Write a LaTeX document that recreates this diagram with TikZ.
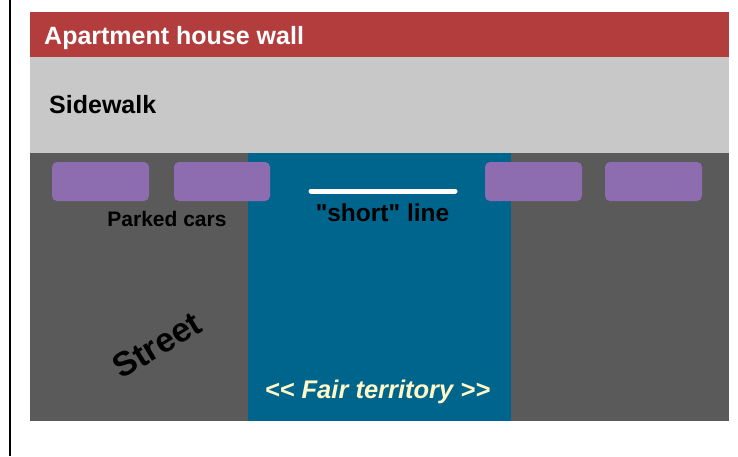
\documentclass[tikz,border=0pt]{standalone}
\usepackage{fontspec}
\newfontfamily\pf{Liberation Sans}
\definecolor{wallred}{RGB}{179,60,60}
\definecolor{sidegray}{RGB}{200,200,200}
\definecolor{streetgray}{RGB}{90,90,90}
\definecolor{fairblue}{RGB}{0,101,140}
\definecolor{carpurple}{RGB}{142,108,176}
\definecolor{cream}{RGB}{255,248,200}
\tikzset{
  car/.style={fill=carpurple, rounded corners=5pt},
  lbl/.style={inner sep=0pt},
}
\begin{document}
\begin{tikzpicture}[x=1pt,y=-1pt]
\useasboundingbox (0,0) rectangle (738,456);
\fill[white] (0,0) rectangle (738,456);
% left border line
\draw[line width=2pt] (10,0) -- (10,456);
% wall
\fill[wallred] (30,12) rectangle (729,57);
% sidewalk
\fill[sidegray] (30,57) rectangle (729,153);
% street
\fill[streetgray] (30,153) rectangle (729,421);
% fair territory
\fill[fairblue] (248,153) rectangle (511,421);
% cars
\fill[car] (52,162) rectangle (149,201);
\fill[car] (174,162) rectangle (270,201);
\fill[car] (485,162) rectangle (582,201);
\fill[car] (605,162) rectangle (702,201);
% short line
\coordinate (sl1) at (311,191);
\coordinate (sl2) at (455,191);
\draw[white, line width=5pt, line cap=round] (sl1) -- (sl2);
% labels
\node[lbl, text=white, anchor=base west, font=\pf\bfseries\fontsize{25}{25}\selectfont] (wall) at (44,44) {Apartment house wall};
\node[lbl, anchor=base west, font=\pf\bfseries\fontsize{25}{25}\selectfont] (side) at (49,113) {Sidewalk};
\node[lbl, anchor=base, font=\pf\bfseries\fontsize{21}{21}\selectfont] (parked) at (167,226) {Parked cars};
\node[lbl, anchor=base, font=\pf\bfseries\fontsize{24.5}{24.5}\selectfont] (short) at (382.5,221) {"short" line};
\node[lbl, anchor=base, text=cream, font=\pf\bfseries\itshape\fontsize{25.5}{25.5}\selectfont] (fair) at (377.5,398) {<< Fair territory >>};
\node[lbl, rotate=31, font=\pf\bfseries\fontsize{34}{34}\selectfont] (street) at (157,345) {Street};
\end{tikzpicture}
\end{document}
